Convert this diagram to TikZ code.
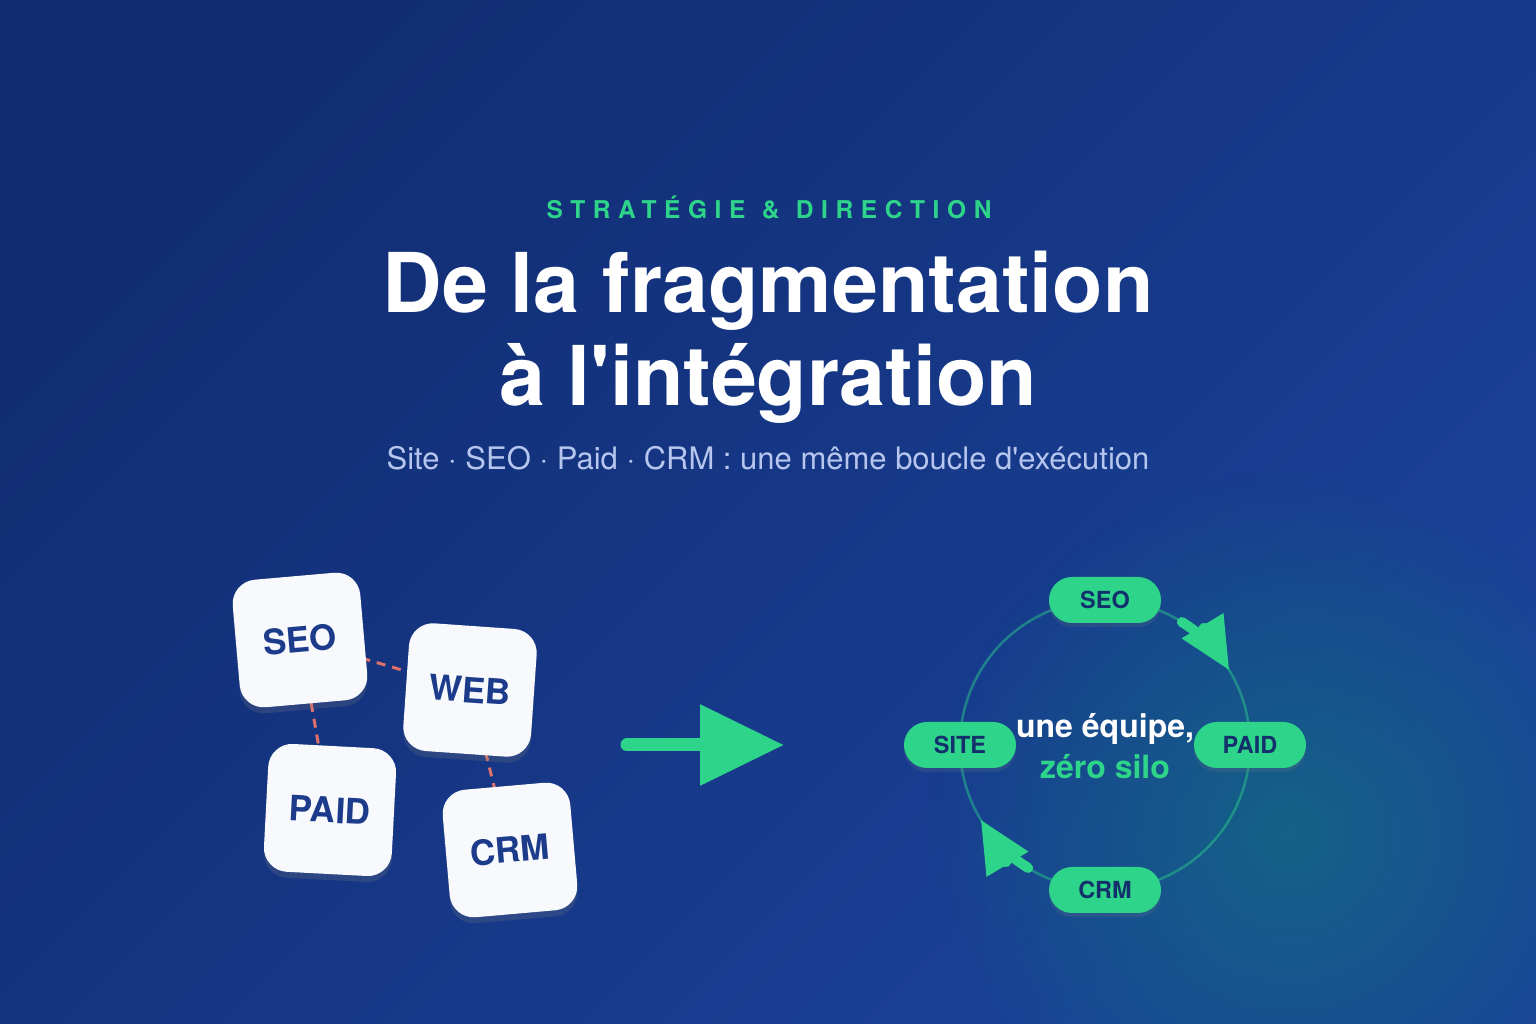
\documentclass[tikz,border=0pt]{standalone}
\usepackage{fontspec}
\setmainfont{TeX Gyre Heros}[Ligatures=TeXOff]
\usetikzlibrary{arrows.meta,positioning,calc,backgrounds,shadows,fadings}
\definecolor{intnavy}{HTML}{112C72}
\definecolor{intblue}{HTML}{1A4299}
\definecolor{intteal}{HTML}{12717F}
\definecolor{intgreen}{HTML}{2DD48A}
\definecolor{intink}{HTML}{1C3B8A}
\definecolor{intdark}{HTML}{14306C}
\definecolor{intcard}{HTML}{F7F9FC}
\definecolor{intlav}{HTML}{B6C6EE}
\definecolor{intcoral}{HTML}{E0706A}
\tikzfading[name=glowfade, inner color=transparent!30, outer color=transparent!100]
\tikzset{
  card/.style={fill=intcard, rounded corners=24pt, minimum width=128pt, minimum height=128pt, inner sep=0pt,
    font=\fontsize{35}{35}\selectfont\bfseries, text=intink,
    drop shadow={opacity=0.22, shadow xshift=0pt, shadow yshift=-6pt}},
  pill/.style={fill=intgreen, rounded corners=23pt, minimum width=112pt, minimum height=46pt, inner sep=0pt,
    font=\fontsize{23.5}{24}\selectfont\bfseries, text=intdark,
    drop shadow={opacity=0.18, shadow xshift=0pt, shadow yshift=-4pt}},
  link/.style={draw=intcoral, line width=3pt, dash pattern=on 9pt off 7pt},
  ring/.style={draw=intgreen, opacity=0.45, line width=2.5pt},
  flow/.style={-{Triangle[length=52pt, width=46pt]}, line width=10pt, line cap=round, color=intgreen},
  bigflow/.style={-{Triangle[length=84pt, width=78pt]}, line width=13pt, line cap=round, color=intgreen},
  kicker/.style={font=\fontsize{24.5}{25}\selectfont\bfseries\addfontfeature{LetterSpace=31}, text=intgreen},
  headline/.style={font=\fontsize{82.5}{83}\selectfont\bfseries, text=white},
  subline/.style={font=\fontsize{31}{31}\selectfont, text=intlav},
  motto/.style={font=\fontsize{32}{32}\selectfont\bfseries},
}
\begin{document}
\begin{tikzpicture}[x=1pt, y=1pt]
  \useasboundingbox (0,0) rectangle (1536,1024);
  \begin{scope}[on background layer]
    \shade[shading=axis, top color=intnavy, bottom color=intblue, shading angle=45] (0,0) rectangle (1536,1024);
    \fill[intteal, path fading=glowfade] (1290,190) circle[radius=360pt];
  \end{scope}

  % heading
  \node[kicker, anchor=base] (kick) at (769,805) {STRATÉGIE\hspace{2pt} \&\hspace{2pt} DIRECTION};
  \node[headline, anchor=base] (head1) at (768,711) {De la fragmentation};
  \node[headline, anchor=base] (head2) at (768,618) {à l'intégration};
  \node[subline, anchor=base] (sub) at (768,554) {Site · SEO · Paid · CRM : une même boucle d'exécution};

  % fragmented cards
  \node[card, rotate=5] (cseo) at (300,384) {SEO};
  \node[card, rotate=-4] (cweb) at (470,334) {WEB};
  \node[card, rotate=-3] (cpaid) at (330,214) {PAID};
  \node[card, rotate=5] (ccrm) at (510,174) {CRM};
  \begin{scope}[on background layer]
    \draw[link] (cseo.center) -- (cweb.center);
    \draw[link] (cseo.center) -- (cpaid.center);
    \draw[link] (cweb.center) -- (ccrm.center);
  \end{scope}

  % transition
  \coordinate (arrs) at (627,279);
  \coordinate (arre) at (784,279);
  \draw[bigflow] (arrs) -- (arre);

  % integrated loop
  \coordinate (loop) at (1105,279);
  \draw[ring] (loop) circle[radius=145pt];
  \draw[flow] ([shift={(58:145pt)}]loop) arc[start angle=58, end angle=31, radius=145pt];
  \draw[flow] ([shift={(238:145pt)}]loop) arc[start angle=238, end angle=211, radius=145pt];
  \node[pill] (pseo) at ([yshift=145pt]loop) {SEO};
  \node[pill] (ppaid) at ([xshift=145pt]loop) {PAID};
  \node[pill] (pcrm) at ([yshift=-145pt]loop) {CRM};
  \node[pill] (psite) at ([xshift=-145pt]loop) {SITE};
  \node[motto, text=white, anchor=base] (m1) at (1105,286) {une équipe,};
  \node[motto, text=intgreen, anchor=base] (m2) at (1105,245) {zéro silo};
\end{tikzpicture}
\end{document}
